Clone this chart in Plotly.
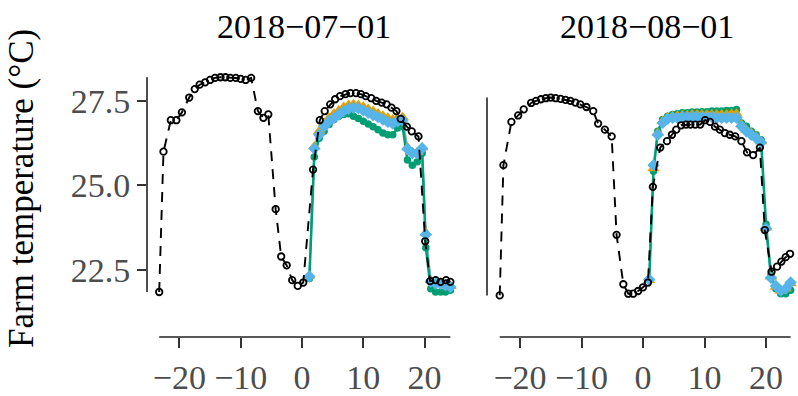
import plotly.graph_objects as go

panel_titles = ["2018\u221207\u221201", "2018\u221208\u221201"]
y_title = "Farm temperature (\u00b0C)"
x_ticks = [-20, -10, 0, 10, 20]
y_ticks = [22.5, 25.0, 27.5]
y_ticklabels = ["22.5", "25.0", "27.5"]

# ---- Panel 1 (2018-07-01) ----
p1_black_x = [-23.3, -22.6, -21.4, -20.5, -19.6, -18.4, -17.5, -16.7, -15.8, -15.0, -14.2, -13.3,
              -12.5, -11.7, -10.8, -10.0, -9.2, -8.3, -7.2, -6.3, -5.5, -4.3, -3.4, -2.5, -1.6,
              -0.7, 0.2,
              1.8, 2.9, 3.7, 4.6, 5.4, 6.2, 7.1, 7.9, 8.8, 9.6, 10.4, 11.3, 12.1, 13.0, 13.8,
              14.6, 15.4, 16.1, 17.1, 17.9, 19.0, 20.1, 20.9, 21.8, 22.6, 23.5, 24.2]
p1_black_y = [21.85, 26.0, 26.93, 26.93, 27.16, 27.6, 27.85, 27.98, 28.05, 28.12, 28.18, 28.2,
              28.2, 28.18, 28.18, 28.15, 28.12, 28.18, 27.2, 27.0, 27.1, 24.3, 22.9, 22.64, 22.2,
              22.03, 22.13,
              25.47, 26.93, 27.2, 27.4, 27.55, 27.64, 27.7, 27.73, 27.73, 27.7, 27.64, 27.58,
              27.5, 27.45, 27.4, 27.3, 27.2, 26.97, 26.74, 26.6, 26.45, 23.35, 22.17, 22.2,
              22.15, 22.2, 22.15]

p1_x = [1.2, 2.0, 2.8, 3.6, 4.4, 5.2, 6.0, 6.8, 7.6, 8.4, 9.2, 10.0, 10.8, 11.6, 12.4, 13.2,
        14.0, 14.8, 15.6, 16.4, 17.2, 18.0, 18.8, 19.6, 20.2, 21.0, 21.8, 22.6, 23.4, 24.2]
p1_blue = [22.31, 26.09, 26.5, 26.74, 26.9, 27.0, 27.1, 27.2, 27.27, 27.3, 27.28, 27.22, 27.15,
           27.08, 27.02, 26.95, 26.88, 26.83, 26.9, 26.93, 26.08, 25.95, 25.95, 26.1, 23.55,
           22.16, 22.1, 22.1, 22.05, 22.0]
p1_orange = [22.33, 26.15, 26.6, 26.85, 27.0, 27.12, 27.22, 27.32, 27.38, 27.4, 27.38, 27.33,
             27.26, 27.2, 27.13, 27.06, 27.0, 26.95, 27.0, 27.02, 26.12, 25.98, 25.98, 26.12,
             23.6, 22.2, 22.12, 22.12, 22.08, 22.02]
p1_green = [22.25, 25.84, 26.4, 26.6, 26.8, 26.95, 27.05, 27.1, 27.12, 27.05, 26.98, 26.9, 26.82,
            26.74, 26.65, 26.55, 26.5, 26.5, 26.7, 26.75, 25.75, 25.6, 25.7, 25.95, 23.16,
            21.95, 21.85, 21.85, 21.85, 21.9]

# ---- Panel 2 (2018-08-01) ----
p2_black_x = [-23.3, -22.7, -21.4, -20.3, -19.4, -18.2, -17.4, -16.6, -15.8, -15.0, -14.2, -13.4,
              -12.6, -11.8, -11.0, -10.2, -9.2, -8.1, -7.3, -6.2, -5.1, -4.3, -3.2, -2.4, -1.6,
              -0.8, 0.0, 0.8,
              1.6, 2.8, 3.9, 4.7, 5.4, 6.2, 7.0, 7.7, 8.5, 9.3, 10.1, 10.9, 11.7, 12.5, 13.3,
              14.1, 15.0, 16.0, 16.9, 17.9, 19.0, 19.8, 20.9, 21.8, 22.5, 23.2, 23.9]
p2_black_y = [21.75, 25.6, 26.88, 27.07, 27.25, 27.44, 27.5, 27.55, 27.58, 27.6, 27.58, 27.56,
              27.53, 27.5, 27.45, 27.4, 27.32, 27.2, 26.83, 26.65, 26.45, 23.54, 22.08, 21.8,
              21.8, 21.88, 21.99, 22.13,
              24.96, 26.12, 26.31, 26.5, 26.65, 26.78, 26.8, 26.8, 26.8, 26.8, 26.93, 26.88,
              26.74, 26.65, 26.55, 26.5, 26.45, 26.31, 25.98, 25.9, 26.12, 23.68, 22.45, 22.6,
              22.75, 22.88, 22.98]

p2_x = [1.0, 1.7, 2.4, 3.2, 4.0, 4.8, 5.6, 6.4, 7.2, 8.0, 8.8, 9.6, 10.4, 11.2, 12.0, 12.8,
        13.6, 14.4, 15.2, 16.0, 16.8, 17.6, 18.4, 19.2, 20.0, 20.8, 21.6, 22.4, 23.2, 24.0]
p2_blue = [22.22, 25.6, 26.5, 26.85, 26.97, 27.0, 27.0, 27.02, 27.02, 27.03, 27.03, 27.02, 27.02,
           27.02, 27.0, 27.0, 27.0, 27.0, 27.0, 26.75, 26.6, 26.5, 26.4, 26.27, 23.73, 22.27,
           22.03, 21.89, 21.95, 22.13]
p2_orange = [22.2, 25.5, 26.55, 26.9, 27.02, 27.05, 27.06, 27.08, 27.08, 27.1, 27.1, 27.1, 27.1,
             27.1, 27.1, 27.1, 27.1, 27.12, 27.12, 26.8, 26.65, 26.55, 26.45, 26.3, 23.75, 22.3,
             22.0, 21.88, 21.95, 22.1]
p2_green = [22.2, 25.42, 26.6, 26.95, 27.05, 27.1, 27.12, 27.15, 27.15, 27.17, 27.17, 27.18,
            27.18, 27.2, 27.2, 27.2, 27.22, 27.22, 27.25, 26.85, 26.75, 26.6, 26.5, 26.35, 23.85,
            22.35, 21.95, 21.8, 21.8, 21.9]

BLACK = "#000000"
GREEN = "#009E73"
ORANGE = "#E69F00"
BLUE = "#56B4E9"
FONT = "Liberation Serif"

fig = go.Figure()

panels = [
    ("x", "y", p1_black_x, p1_black_y, p1_x, p1_blue, p1_orange, p1_green),
    ("x2", "y2", p2_black_x, p2_black_y, p2_x, p2_blue, p2_orange, p2_green),
]

for xa, ya, bx, by, cx, cb, co, cg in panels:
    fig.add_trace(go.Scatter(x=cx, y=co, mode="lines", line=dict(color=ORANGE, width=1.5),
                             xaxis=xa, yaxis=ya, showlegend=False, hoverinfo="skip"))
    fig.add_trace(go.Scatter(x=cx, y=cb, mode="lines", line=dict(color=BLUE, width=2),
                             xaxis=xa, yaxis=ya, showlegend=False, hoverinfo="skip"))
    fig.add_trace(go.Scatter(x=cx, y=cg, mode="lines", line=dict(color=GREEN, width=2.5),
                             xaxis=xa, yaxis=ya, showlegend=False, hoverinfo="skip"))
    fig.add_trace(go.Scatter(x=cx, y=cg, mode="markers",
                             marker=dict(symbol="circle", size=7.5, color=GREEN),
                             xaxis=xa, yaxis=ya, showlegend=False))
    fig.add_trace(go.Scatter(x=cx, y=co, mode="markers",
                             marker=dict(symbol="triangle-up", size=11, color=ORANGE),
                             xaxis=xa, yaxis=ya, showlegend=False))
    fig.add_trace(go.Scatter(x=cx, y=cb, mode="markers",
                             marker=dict(symbol="diamond", size=9.5, color=BLUE),
                             xaxis=xa, yaxis=ya, showlegend=False))
    fig.add_trace(go.Scatter(x=bx, y=by, mode="lines+markers",
                             line=dict(color=BLACK, width=1.9, dash="10px,8px"),
                             marker=dict(symbol="circle-open", size=6.5, color=BLACK,
                                         line=dict(width=1.8, color=BLACK)),
                             xaxis=xa, yaxis=ya, showlegend=False))

    allx = bx + cx
    ally = by + cb + co + cg
    xd = "x domain" if xa == "x" else "x2 domain"
    yd = "y domain" if ya == "y" else "y2 domain"
    fig.add_shape(type="line", xref=xa, yref=yd, x0=min(allx), x1=max(allx), y0=0, y1=0,
                  line=dict(color="#222222", width=1.6), layer="above")
    fig.add_shape(type="line", xref=xd, yref=ya, x0=0, x1=0, y0=min(ally), y1=max(ally),
                  line=dict(color="#222222", width=1.6), layer="above")

L, T, B = 147, 60, 46
W, H = 798, 396
pw = W - L

xcommon = dict(tickvals=x_ticks, ticks="outside", ticklen=10, tickwidth=2.2, tickcolor="#333333",
               showline=False, showgrid=False, zeroline=False,
               tickfont=dict(family=FONT, size=34, color="#4D4D4D"))
ycommon = dict(range=[20.52, 28.71], tickvals=y_ticks, ticktext=y_ticklabels,
               ticklen=9, tickwidth=2.2, tickcolor="#333333", showline=False, showgrid=False,
               zeroline=False, tickfont=dict(family=FONT, size=34, color="#4D4D4D"))

fig.update_layout(
    width=W, height=H,
    margin=dict(l=L, r=0, t=T, b=B),
    paper_bgcolor="white", plot_bgcolor="white",
    xaxis=dict(domain=[0, (462 - L) / pw], range=[-25.29, 26.1], anchor="y", **xcommon),
    xaxis2=dict(domain=[(487 - L) / pw, 1], range=[-25.37, 25.2], anchor="y2", **xcommon),
    yaxis=dict(anchor="x", ticks="outside", **ycommon),
    yaxis2=dict(anchor="x2", showticklabels=False, ticks="", **ycommon),
    font=dict(family=FONT),
)

plot_h = H - T - B
fig.add_annotation(text=panel_titles[0], xref="paper", yref="paper",
                   x=(304 - L) / pw, y=(H - B - 25) / plot_h, xanchor="center", yanchor="middle",
                   showarrow=False, font=dict(family=FONT, size=34, color="black"))
fig.add_annotation(text=panel_titles[1], xref="paper", yref="paper",
                   x=(647 - L) / pw, y=(H - B - 25) / plot_h, xanchor="center", yanchor="middle",
                   showarrow=False, font=dict(family=FONT, size=34, color="black"))
fig.add_annotation(text=y_title, xref="paper", yref="paper",
                   x=(22 - L) / pw, y=(H - B - 195) / plot_h, xanchor="center", yanchor="middle",
                   textangle=-90, showarrow=False, font=dict(family=FONT, size=35, color="black"))

fig.write_html("out.html")
